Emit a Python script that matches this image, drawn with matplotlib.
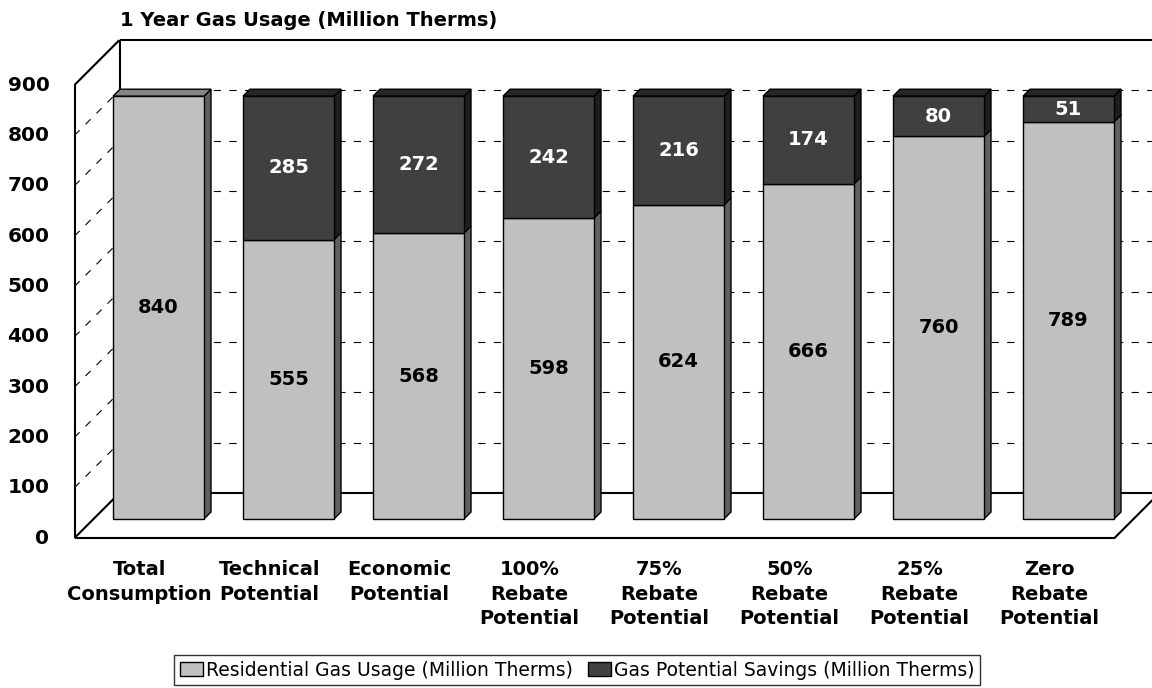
import matplotlib
matplotlib.use("Agg")
import matplotlib.pyplot as plt
from matplotlib.patches import Rectangle, Polygon, Patch

# ---------------- data ----------------
categories = ["Total\nConsumption", "Technical\nPotential", "Economic\nPotential",
              "100%\nRebate\nPotential", "75%\nRebate\nPotential", "50%\nRebate\nPotential",
              "25%\nRebate\nPotential", "Zero\nRebate\nPotential"]
residential = [840, 555, 568, 598, 624, 666, 760, 789]
savings = [0, 285, 272, 242, 216, 174, 80, 51]
yticks = [0, 100, 200, 300, 400, 500, 600, 700, 800, 900]
series_names = ["Residential Gas Usage (Million Therms)", "Gas Potential Savings (Million Therms)"]
title = "1 Year Gas Usage (Million Therms)"

# ---------------- style ----------------
LIGHT, LIGHT_SIDE, LIGHT_TOP = "#C0C0C0", "#606060", "#858585"
DARK, DARK_SIDE, DARK_TOP = "#404040", "#1E1E1E", "#262626"

W, H = 1152, 688
fig = plt.figure(figsize=(W / 100, H / 100), dpi=100)
# front plane of the 3-D box: x -0.5..7.5 over 1040 px, y 0..900 over 453 px
ax = fig.add_axes([74.5 / W, (H - 538) / H, 1040 / W, 453 / H])
ax.set_xlim(-0.5, 7.5)
ax.set_ylim(0, 900)
ax.axis("off")

PX_X = 1040 / 8.0
PX_Y = 453 / 900.0
def dx(px):
    return px / PX_X
def dy(px):
    return px / PX_Y

DEPTH = 45
Dx, Dy = dx(DEPTH), dy(DEPTH)
x0, x1 = -0.5, 7.5

wall_kw = dict(color="black", lw=1.5, clip_on=False, zorder=1, solid_capstyle="butt")
grid_kw = dict(color="black", lw=0.8, clip_on=False, zorder=1, linestyle=(0, (6.5, 7.5)))

# back wall
ax.plot([x0 + Dx, x1 + Dx + 0.2], [900 + Dy, 900 + Dy], **wall_kw)
ax.plot([x0 + Dx, x0 + Dx], [Dy, 900 + Dy], **wall_kw)
for v in yticks[1:-1]:
    ax.plot([x0 + Dx, x1 + Dx], [v + Dy, v + Dy], **grid_kw)
    ax.plot([x0, x0 + Dx], [v, v + Dy], **grid_kw)
# left wall
ax.plot([x0, x0], [0, 900], **wall_kw)
ax.plot([x0, x0 + Dx], [900, 900 + Dy], **wall_kw)
# floor
ax.plot([x0, x1], [0, 0], **wall_kw)
ax.plot([x1, x1 + Dx], [0, Dy], **wall_kw)
ax.plot([x0 + Dx, x1 + Dx + 0.2], [Dy, Dy], **wall_kw)
ax.plot([x0, x0 + Dx], [0, Dy], **wall_kw)

# bars
FX, FY = dx(19), dy(19)
BD_X, BD_Y = dx(7), dy(7)
BW = 0.7
edge_kw = dict(edgecolor="black", lw=1.0, joinstyle="miter", clip_on=False)
for i, (r, s) in enumerate(zip(residential, savings)):
    segs = [(0, r, LIGHT, LIGHT_SIDE, LIGHT_TOP, "black")]
    if s > 0:
        segs.append((r, s, DARK, DARK_SIDE, DARK_TOP, "white"))
    for k, (b, v, fc, sc, tc, txtc) in enumerate(segs):
        xl = i - BW / 2 + FX
        xr = xl + BW
        yb = FY + b
        yt = yb + v
        ax.add_patch(Polygon([(xr, yb), (xr + BD_X, yb + BD_Y), (xr + BD_X, yt + BD_Y), (xr, yt)],
                             closed=True, facecolor=sc, zorder=3, **edge_kw))
        ax.add_patch(Rectangle((xl, yb), BW, v, facecolor=fc, zorder=4, **edge_kw))
        if k == len(segs) - 1:
            ax.add_patch(Polygon([(xl, yt), (xr, yt), (xr + BD_X, yt + BD_Y), (xl + BD_X, yt + BD_Y)],
                                 closed=True, facecolor=tc, zorder=3, **edge_kw))
        ax.text(i + FX, yb + v / 2, str(v), ha="center", va="center", color=txtc,
                fontsize=14, fontweight="bold", zorder=6)

# y tick labels (front plane)
for v in yticks:
    ax.annotate(str(v), xy=(x0, v), xytext=(-25, 0), textcoords="offset pixels",
                ha="right", va="center", fontsize=14.5, fontweight="bold", annotation_clip=False)

# category labels
for i, c in enumerate(categories):
    ax.annotate(c, xy=(i, 0), xytext=(0, -22), textcoords="offset pixels",
                ha="center", va="top", fontsize=14, fontweight="bold",
                linespacing=1.38, annotation_clip=False)

fig.text(120 / W, 1 - 20 / H, title, ha="left", va="center", fontsize=14, fontweight="bold")

handles = [Patch(facecolor=LIGHT, edgecolor="black", lw=1.0),
           Patch(facecolor=DARK, edgecolor="black", lw=1.0)]
leg = fig.legend(handles, series_names, loc="upper center", bbox_to_anchor=(577 / W, 1 - 655 / H),
                 ncol=2, fontsize=13.5, frameon=True, fancybox=False, edgecolor="black",
                 borderpad=0.3, handlelength=1.25, handleheight=0.75, handletextpad=0.15,
                 columnspacing=0.8, borderaxespad=0)
leg.get_frame().set_linewidth(1.0)

fig.savefig("out.png", dpi=100)
